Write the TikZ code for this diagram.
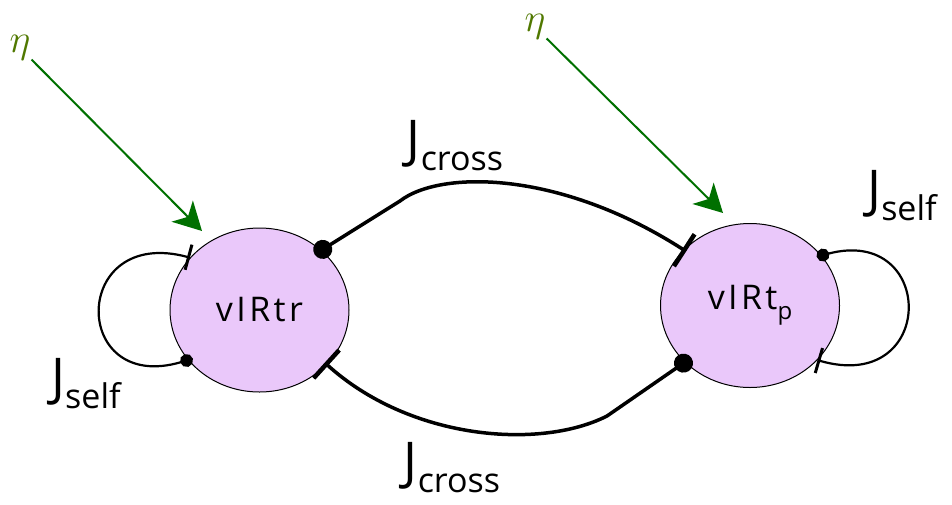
\RequirePackage{fix-cm}
\documentclass[tikz,border=0pt]{standalone}
\usepackage{fontspec}
\setmainfont{Open Sans}
\newfontfamily\handfont[LetterSpace=10]{Open Sans}
\usetikzlibrary{arrows.meta,shapes.geometric}
\definecolor{nodefill}{RGB}{234,200,250}
\definecolor{arrowgreen}{RGB}{0,112,0}
\definecolor{etagreen}{RGB}{80,120,0}
\newcommand{\jlabel}[1]{{\fontsize{52}{52}\selectfont J}\raisebox{-13pt}{\fontsize{34}{34}\selectfont #1}}
\tikzset{
  statenode/.style={ellipse, draw=black, line width=1pt, fill=nodefill,
    minimum width=179pt, minimum height=164pt, inner sep=0pt},
  crossline/.style={line width=3.5pt, black},
  loopline/.style={line width=2.2pt, black},
  bigbar/.tip={Rectangle[length=4.5pt,width=38pt]},
  smallbar/.tip={Rectangle[length=3pt,width=26pt]},
  bigdot/.tip={Circle[length=19pt]},
  smalldot/.tip={Circle[length=13pt]},
  greenarrow/.style={arrowgreen, line width=2pt, -{Stealth[length=28pt,width=30pt,inset=8pt]}},
  etalabel/.style={text=etagreen, inner sep=1pt},
  jlab/.style={inner sep=0pt}
}
\begin{document}
\begin{tikzpicture}[x=1pt,y=-1pt]
\useasboundingbox (0,0) rectangle (952,504);
\node[statenode] (L) at (259.5,310) {\handfont\fontsize{34}{34}\selectfont vIRtr};
\node[statenode] (R) at (750,305.5) {\handfont\fontsize{34}{34}\selectfont vIRt\raisebox{-10pt}{\fontsize{24}{24}\selectfont p}};
% eta inputs
\node[etalabel] (eta1) at (20,48) {\fontsize{40}{40}\selectfont$\eta$};
\node[etalabel] (eta2) at (535,27) {\fontsize{40}{40}\selectfont$\eta$};
\coordinate (t1) at (202,231);
\coordinate (t2) at (723,213);
\draw[greenarrow] (eta1) -- (t1);
\draw[greenarrow] (eta2) -- (t2);
% cross connections
\draw[crossline, bigdot-bigbar, shorten <=-8pt, shorten >=-3pt]
  (L.44) -- (400,201) .. controls (440,170) and (560,170) .. (R.140);
\draw[crossline, bigbar-bigdot, shorten >=-8pt, shorten <=-3pt]
  (L.-39) .. controls (410,440) and (540,450) .. (607,416) -- (R.-139);
% self loops
\draw[loopline, smallbar-smalldot, shorten >=-5pt]
  (L.143) .. controls (70,225) and (70,395) .. (L.-145);
\draw[loopline, smalldot-smallbar, shorten <=-5pt]
  (R.35) .. controls (937,225) and (937,395) .. (R.-39);
% labels
\node[jlab] (jc1) at (455,146) {\jlabel{cross}};
\node[jlab] (jc2) at (452,468) {\jlabel{cross}};
\node[jlab] (js1) at (86,384) {\jlabel{self}};
\node[jlab] (js2) at (902,196) {\jlabel{self}};
\end{tikzpicture}
\end{document}
